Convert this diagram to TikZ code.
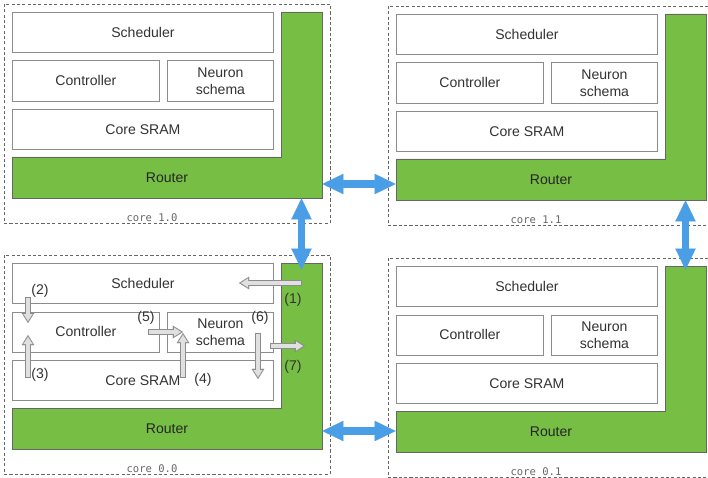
\documentclass[tikz,border=0pt]{standalone}
\usepackage{fontspec}
\setmainfont{Liberation Sans}
\setmonofont{DejaVu Sans Mono}
\usetikzlibrary{arrows.meta,calc}
\definecolor{routergreen}{HTML}{77BE45}
\definecolor{linkblue}{HTML}{4A9EE6}

\begin{document}
\begin{tikzpicture}[x=0.025cm,y=-0.025cm,font=\fontsize{10}{12}\selectfont,line join=miter]
  \tikzset{block/.style={draw=black!45,fill=white,line width=0.6pt,minimum height=1cm,inner sep=0pt,anchor=north west,text=black!80},
    corebox/.style={draw=black!60,line width=0.7pt,dash pattern=on 2.2pt off 1.6pt},
    link/.style={linkblue,line width=5.2pt,{Triangle[width=14.5pt,length=15pt,line width=0.1pt]}-{Triangle[width=14.5pt,length=15pt,line width=0.1pt]}},
    flow/.style={draw=black!45,line width=4pt,-{Triangle[width=9pt,length=7.2pt,line width=0.1pt]},
      postaction={draw=black!12,line width=2.6pt,shorten <=0.7pt,shorten >=1.4pt,-{Triangle[width=6.4pt,length=5pt,line width=0.1pt]}}},
    steplbl/.style={text=black!80,inner sep=1pt}}
  \clip (0,0) rectangle (708,478);
  % four cores
  \foreach \cx/\cy/\id/\title in {4/4/10/{core 1.0},388/6/11/{core 1.1},4/255/00/{core 0.0},388/258/01/{core 0.1}}{
    \draw[corebox] (\cx,\cy) rectangle (\cx+326,\cy+219);
    \filldraw[fill=routergreen,draw=black!60,line width=0.6pt] (\cx+277,\cy+8) -- (\cx+318,\cy+8) -- (\cx+318,\cy+194) -- (\cx+8,\cy+194) -- (\cx+8,\cy+153) -- (\cx+277,\cy+153) -- cycle;
    \node[minimum width=7.75cm,minimum height=1.025cm,inner sep=0pt,text=black!85] (rtr\id) at (\cx+163,\cy+173.5) {Router};
    \node[minimum width=1.025cm,minimum height=4.65cm,inner sep=0pt] (col\id) at (\cx+297.5,\cy+101) {};
    \node[block,minimum width=6.525cm] (sch\id) at (\cx+8,\cy+8) {Scheduler};
    \node[block,minimum width=3.675cm] (ctl\id) at (\cx+8,\cy+56.5) {Controller};
    \node[block,minimum width=2.65cm,align=center] (nrn\id) at (\cx+163,\cy+56.5) {Neuron\\schema};
    \node[block,minimum width=6.525cm] (sram\id) at (\cx+8,\cy+105) {Core SRAM};
    \node[font=\ttfamily\fontsize{7.5}{9}\selectfont,text=black!60,anchor=base,inner sep=0pt] (lbl\id) at (\cx+148,\cy+217) {\title};
  }
  % links between routers
  \draw[link] ($(rtr10.east)+(0,6.5)$) coordinate (h1) -- (h1 -| rtr11.west);
  \draw[link] ($(rtr00.east)+(0,2.5)$) coordinate (h2) -- (h2 -| rtr01.west);
  \draw[link] (col10.south) -- ($(col00.north)+(0,7)$);
  \draw[link] (col11.south) -- ($(col01.north)+(0,4)$);
  % steps inside core 0.0
  \foreach \i/\xa/\ya/\xb/\yb/\xl/\yl in {1/302/283/239/283/293/300,2/28/297/28/323/40/291,3/28/378/28/335/40/375,4/183/378/183/333/203/380,5/148/332/183/332/146/318,6/258/333/258/379/260/318,7/270/346/305/346/293/367}{
    \coordinate (s\i) at (\xa,\ya);
    \coordinate (t\i) at (\xb,\yb);
    \draw[flow] (s\i) -- (t\i);
    \node[steplbl] (st\i) at (\xl,\yl) {(\i)};
  }
\end{tikzpicture}
\end{document}
